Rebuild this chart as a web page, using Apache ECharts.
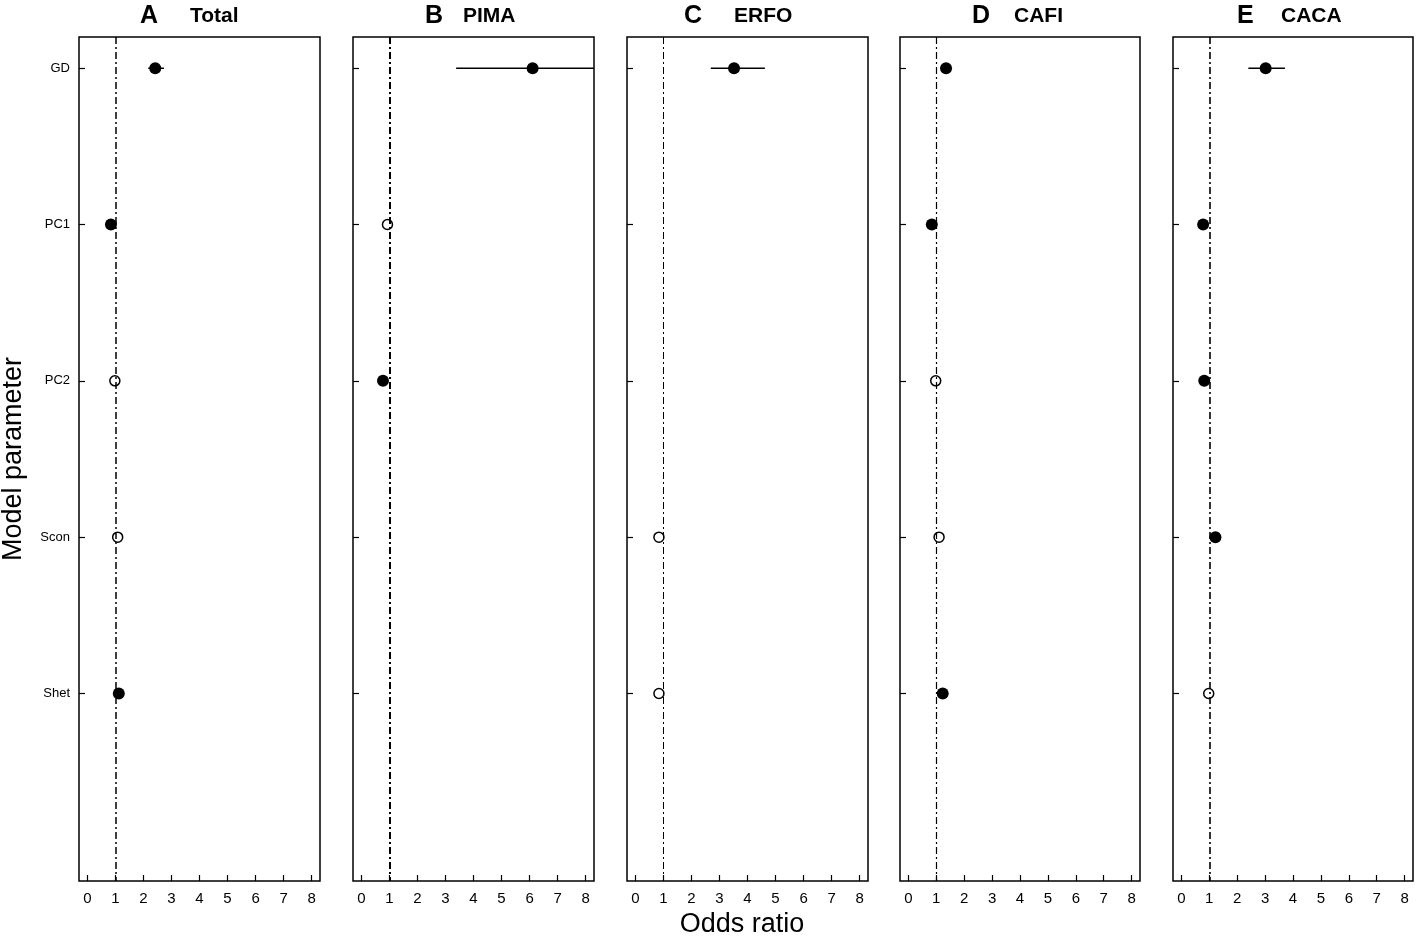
<!DOCTYPE html>
<html>
<head>
<meta charset="utf-8">
<script src="https://cdn.jsdelivr.net/npm/echarts@6/dist/echarts.min.js"></script>
<style>
html,body{margin:0;padding:0;background:#fff;}
#chart{width:1418px;height:937px;}
</style>
</head>
<body>
<div id="chart"></div>
<script>
// ---------- data ----------
const params = ['GD', 'PC1', 'PC2', 'Scon', 'Shet'];
const panelLetters = ['A', 'B', 'C', 'D', 'E'];
const panelNames = ['Total', 'PIMA', 'ERFO', 'CAFI', 'CACA'];
const xTicks = [0, 1, 2, 3, 4, 5, 6, 7, 8];
const refOdds = 1;

// odds ratio estimates (null = parameter not in model)
const orTotal = [2.42, 0.84, 0.98, 1.08, 1.12];
const orPIMA  = [6.11, 0.93, 0.77, null, null];
const orERFO  = [3.52, null, null, 0.84, 0.84];
const orCAFI  = [1.35, 0.84, 0.98, 1.10, 1.23];
const orCACA  = [3.02, 0.78, 0.82, 1.22, 0.98];

// significant (1 = filled) or not (0 = open)
const sigTotal = [1, 1, 0, 0, 1];
const sigPIMA  = [1, 0, 1, null, null];
const sigERFO  = [1, null, null, 0, 0];
const sigCAFI  = [1, 1, 0, 0, 1];
const sigCACA  = [1, 1, 1, 1, 0];

// confidence interval bounds (null = hidden behind the point)
const loTotal = [2.17, null, null, null, null];
const hiTotal = [2.73, null, null, null, null];
const loPIMA  = [3.38, null, null, null, null];
const hiPIMA  = [9.60, null, null, null, null];
const loERFO  = [2.69, null, null, null, null];
const hiERFO  = [4.62, null, null, null, null];
const loCAFI  = [null, null, null, null, null];
const hiCAFI  = [null, null, null, null, null];
const loCACA  = [2.40, null, null, null, null];
const hiCACA  = [3.71, null, null, null, null];

const orAll  = [orTotal, orPIMA, orERFO, orCAFI, orCACA];
const sigAll = [sigTotal, sigPIMA, sigERFO, sigCAFI, sigCACA];
const loAll  = [loTotal, loPIMA, loERFO, loCAFI, loCACA];
const hiAll  = [hiTotal, hiPIMA, hiERFO, hiCAFI, hiCACA];

// ---------- layout ----------
const FONT = '"Liberation Sans", Arial, Helvetica, sans-serif';
const gridLeft = [79, 353, 627, 900, 1173];
const gridWidth = [241, 241, 241, 240, 240];
const refWidth = [1.5, 2, 1, 1.2, 1.6];
const letterX = [140, 425, 684, 972, 1237];
const nameX = [190, 463, 734, 1014, 1281];

const chart = echarts.init(document.getElementById('chart'), null, {renderer: 'canvas'});

const grids = [], xAxes = [], yAxes = [], series = [], graphics = [];

for (let p = 0; p < 5; p++) {
  grids.push({
    left: gridLeft[p], width: gridWidth[p], top: 37, height: 844,
    show: true, borderColor: '#000', borderWidth: 1.5, backgroundColor: '#fff'
  });
  xAxes.push({
    type: 'value', gridIndex: p, min: -0.3, max: 8.3, position: 'bottom',
    splitLine: {show: false},
    axisLine: {show: false, onZero: false},
    axisTick: {show: true, inside: true, length: 6, customValues: xTicks,
               lineStyle: {color: '#000', width: 1.2}},
    axisLabel: {show: true, customValues: xTicks, margin: 10, color: '#000',
                fontSize: 15, fontFamily: FONT}
  });
  yAxes.push({
    type: 'value', gridIndex: p, inverse: true, min: 0.8, max: 6.2, position: 'left',
    splitLine: {show: false},
    axisLine: {show: false, onZero: false},
    axisTick: {show: true, inside: true, length: 6, customValues: [1, 2, 3, 4, 5],
               lineStyle: {color: '#000', width: 1.2}},
    axisLabel: {show: p === 0, customValues: [1, 2, 3, 4, 5], margin: 9, color: '#000',
                fontSize: 13, fontFamily: FONT,
                formatter: v => params[Math.round(v) - 1] || ''}
  });

  const filled = [], open = [], bars = [];
  for (let i = 0; i < params.length; i++) {
    const v = orAll[p][i];
    if (v == null) continue;
    if (sigAll[p][i] === 1) filled.push([v, i + 1]); else open.push([v, i + 1]);
    if (loAll[p][i] != null) bars.push([i + 1, loAll[p][i], hiAll[p][i]]);
  }

  // reference line at odds ratio = 1
  series.push({
    type: 'line', xAxisIndex: p, yAxisIndex: p, data: [], silent: true, z: 1,
    markLine: {
      silent: true, symbol: ['none', 'none'], label: {show: false},
      lineStyle: {color: '#000', width: refWidth[p], type: [7, 3, 2, 3]},
      emphasis: {disabled: true},
      data: [{xAxis: refOdds}]
    }
  });
  // confidence intervals
  series.push({
    type: 'custom', xAxisIndex: p, yAxisIndex: p, clip: true, z: 2, silent: true,
    data: bars,
    renderItem: function (params2, api) {
      const y = api.value(0);
      const a = api.coord([api.value(1), y]);
      const b = api.coord([api.value(2), y]);
      return {type: 'line', shape: {x1: a[0], y1: a[1], x2: b[0], y2: b[1]},
              style: {stroke: '#000', lineWidth: 1.5}};
    }
  });
  series.push({
    type: 'scatter', xAxisIndex: p, yAxisIndex: p, data: filled, symbol: 'circle',
    symbolSize: 12, z: 3, silent: true,
    itemStyle: {color: '#000', opacity: 1}
  });
  series.push({
    type: 'scatter', xAxisIndex: p, yAxisIndex: p, data: open, symbol: 'circle',
    symbolSize: 10, z: 3, silent: true,
    itemStyle: {color: '#fff', borderColor: '#000', borderWidth: 1.5, opacity: 1}
  });

  graphics.push({
    type: 'text', x: letterX[p], y: 16,
    style: {text: panelLetters[p], fontSize: 25, fontWeight: 'bold', fontFamily: FONT,
            fill: '#000', align: 'left', verticalAlign: 'middle'}
  });
  graphics.push({
    type: 'text', x: nameX[p], y: 16,
    style: {text: panelNames[p], fontSize: 21, fontWeight: 'bold', fontFamily: FONT,
            fill: '#000', align: 'left', verticalAlign: 'middle'}
  });
}

graphics.push({
  type: 'text', x: 742, y: 925,
  style: {text: 'Odds ratio', fontSize: 27, fontFamily: FONT, fill: '#000',
          align: 'center', verticalAlign: 'middle'}
});
graphics.push({
  type: 'text', x: 14, y: 459, rotation: Math.PI / 2,
  style: {text: 'Model parameter', fontSize: 27, fontFamily: FONT, fill: '#000',
          align: 'center', verticalAlign: 'middle'}
});

chart.setOption({
  animation: false,
  backgroundColor: '#fff',
  grid: grids,
  xAxis: xAxes,
  yAxis: yAxes,
  series: series,
  graphic: graphics
});
</script>
</body>
</html>
